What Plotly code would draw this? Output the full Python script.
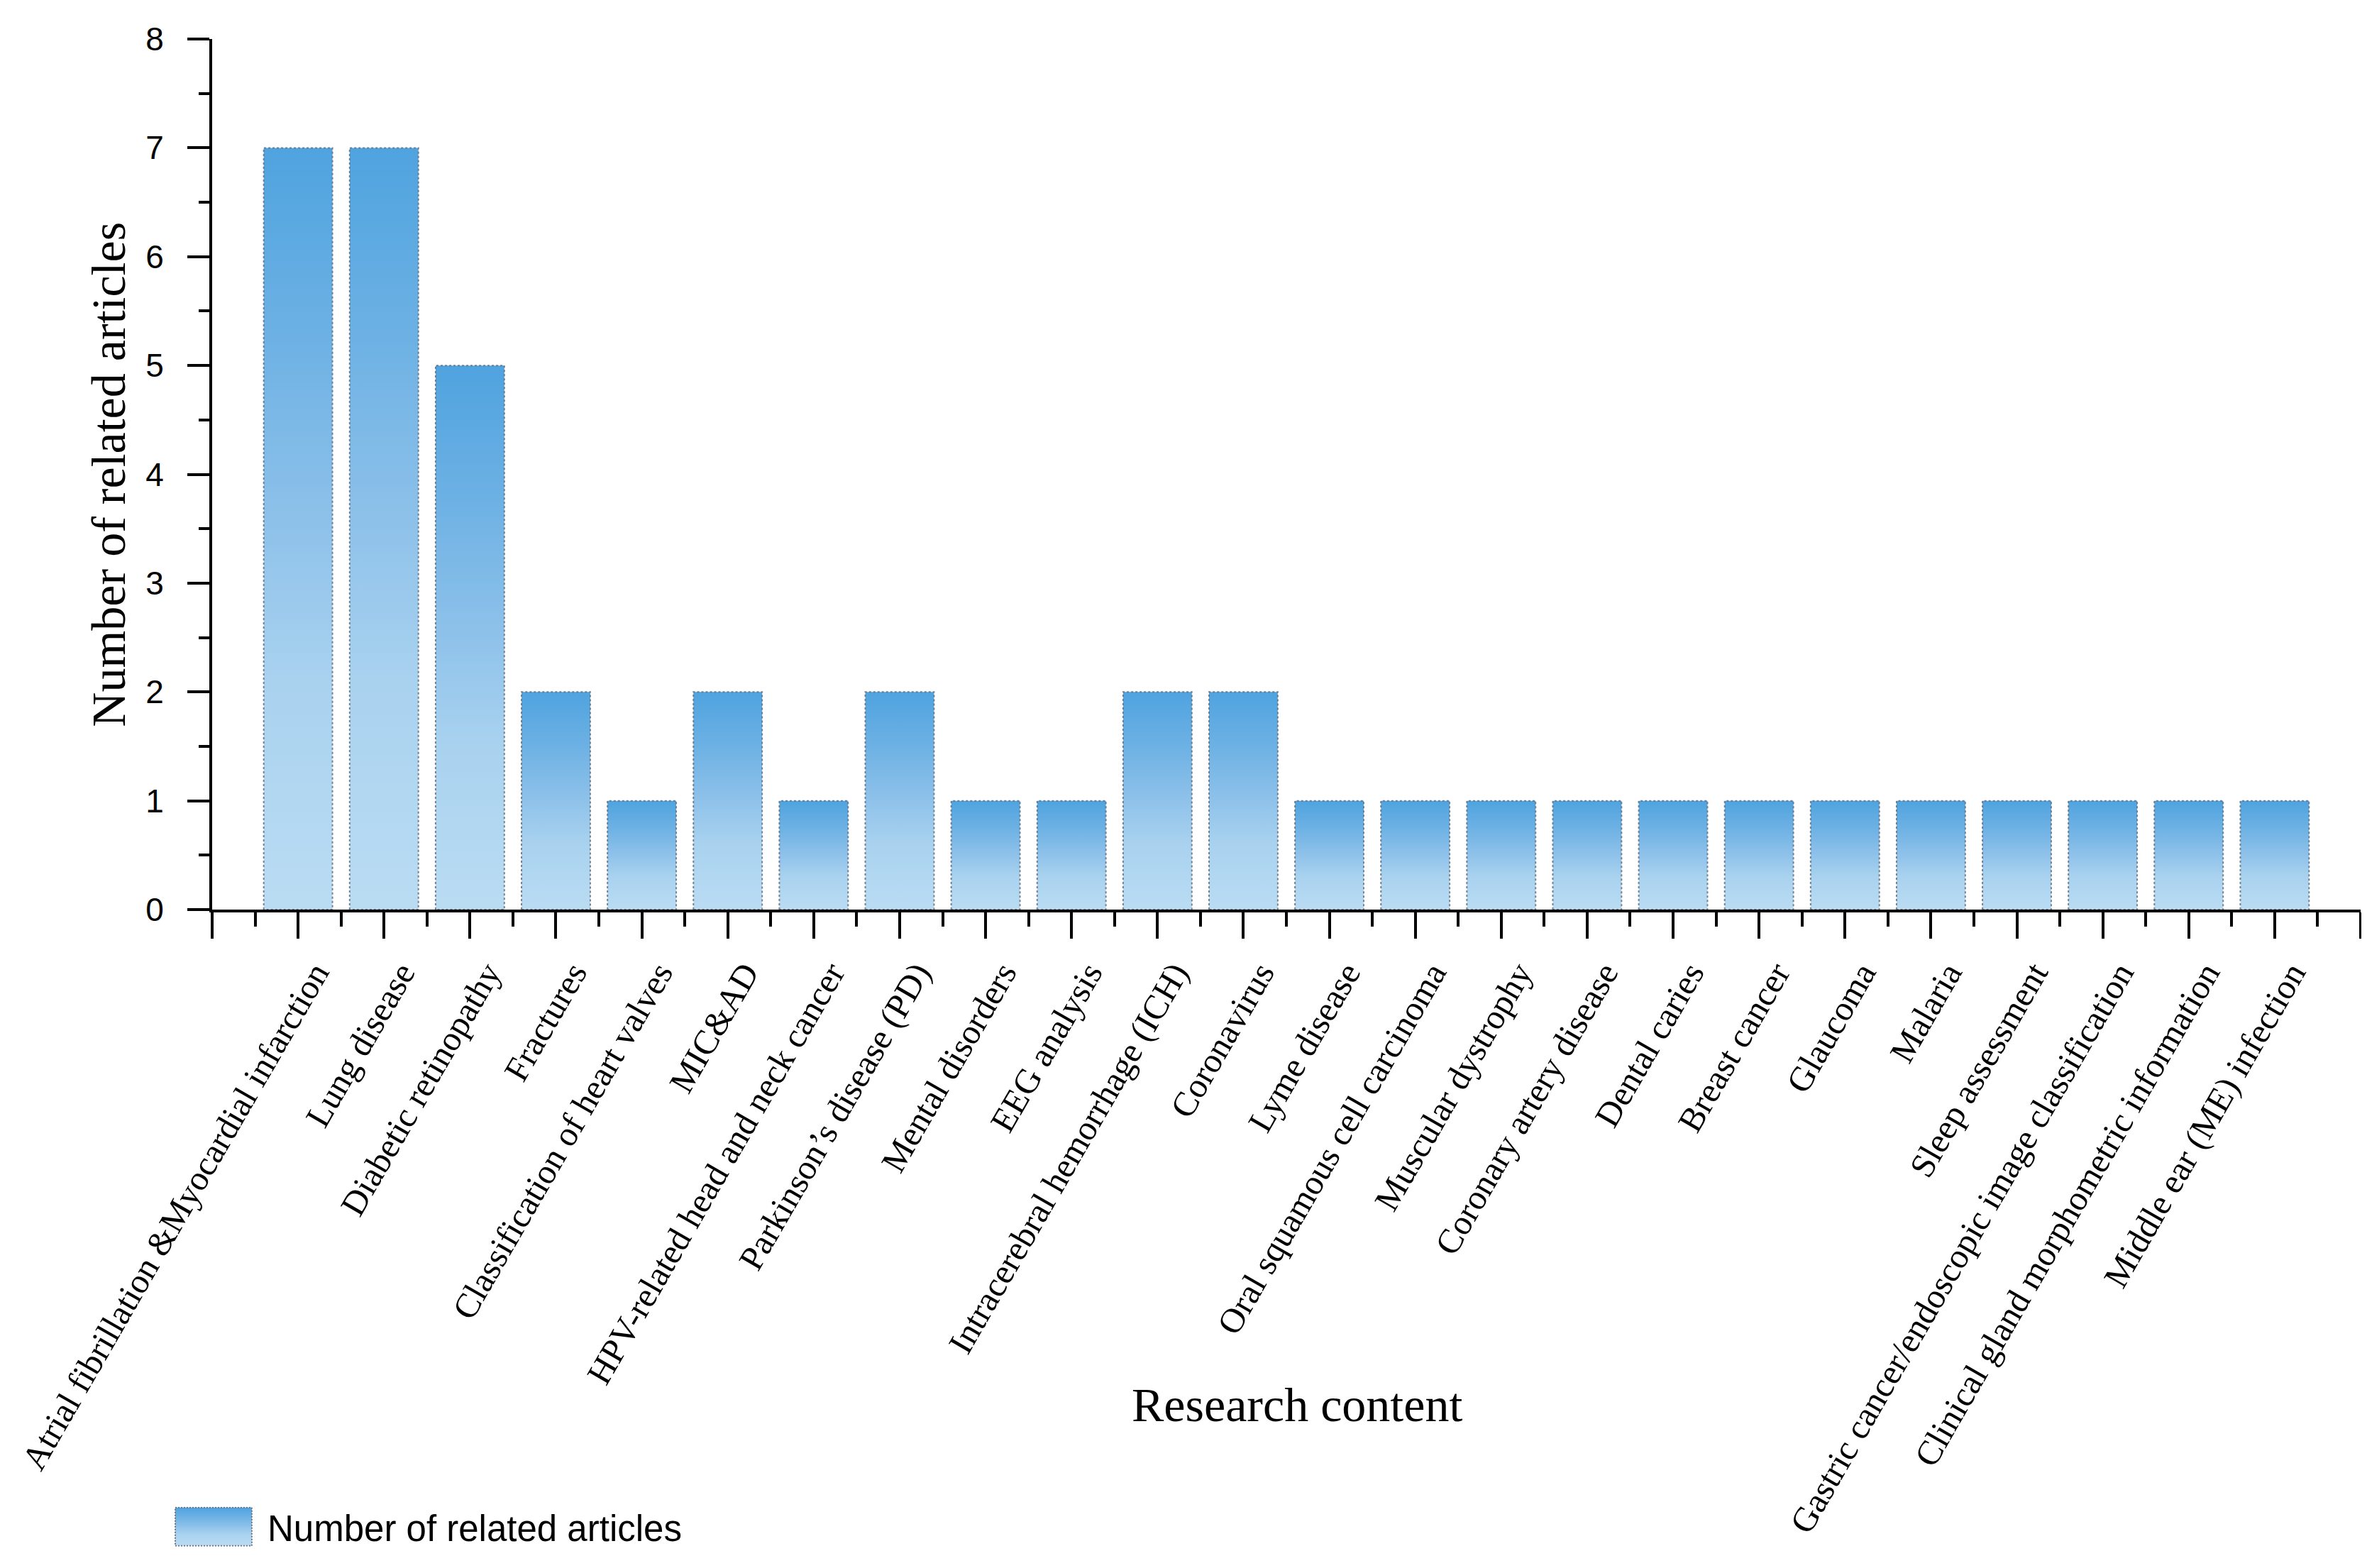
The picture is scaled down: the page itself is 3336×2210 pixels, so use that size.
import base64
import plotly.graph_objects as go

categories = [
    "Atrial fibrillation &Myocardial infarction",
    "Lung disease",
    "Diabetic retinopathy",
    "Fractures",
    "Classification of heart valves",
    "MIC&AD",
    "HPV-related head and neck cancer",
    "Parkinson\u2019s disease (PD)",
    "Mental disorders",
    "EEG analysis",
    "Intracerebral hemorrhage (ICH)",
    "Coronavirus",
    "Lyme disease",
    "Oral squamous cell carcinoma",
    "Muscular dystrophy",
    "Coronary artery disease",
    "Dental caries",
    "Breast cancer",
    "Glaucoma",
    "Malaria",
    "Sleep assessment",
    "Gastric cancer/endoscopic image classification",
    "Clinical gland morphometric information",
    "Middle ear (ME) infection",
]
values = [7, 7, 5, 2, 1, 2, 1, 2, 1, 1, 2, 2, 1, 1, 1, 1, 1, 1, 1, 1, 1, 1, 1, 1]
y_ticks = [0, 1, 2, 3, 4, 5, 6, 7, 8]
series_name = "Number of related articles"

LIGHT = "#BADCF3"
DARK = "#4FA3DF"
gradient = [[0.0, LIGHT], [0.3, "#A9D2EF"], [0.5, "#8FC2EA"], [0.75, "#6DB1E4"], [1.0, DARK]]
BORDER = "rgba(100,110,125,0.85)"
BAR_W = 0.8

fig = go.Figure()
for i, (cat, v) in enumerate(zip(categories, values)):
    x0, x1 = i - BAR_W / 2, i + BAR_W / 2
    fig.add_trace(go.Scatter(
        x=[x0, x0, x1, x1, x0],
        y=[0, v, v, 0, 0],
        mode="lines",
        fill="toself",
        fillgradient=dict(type="vertical", colorscale=gradient),
        line=dict(color=BORDER, width=2, dash="dot"),
        name=series_name,
        showlegend=False,
        hovertext=f"{cat}: {v}",
        hoverinfo="text",
    ))

# legend key: gradient swatch (same colours as the bars) + real text
stops = "".join(
    f'<stop offset="{1 - p:.2f}" stop-color="{c}"/>' for p, c in reversed(gradient)
)
svg = (
    '<svg xmlns="http://www.w3.org/2000/svg" width="110" height="56" viewBox="0 0 110 56" preserveAspectRatio="none">'
    '<defs><linearGradient id="g" x1="0" y1="0" x2="0" y2="1">' + stops + '</linearGradient></defs>'
    '<rect x="1" y="1" width="108" height="54" fill="url(#g)" stroke="#6a7480" stroke-width="2" stroke-dasharray="2,2"/>'
    '</svg>'
)
swatch_src = "data:image/svg+xml;base64," + base64.b64encode(svg.encode()).decode()

n = len(categories)
fig.update_layout(
    width=3336, height=2210,
    paper_bgcolor="white", plot_bgcolor="white",
    margin=dict(l=291, r=17, t=47, b=936),
    font=dict(family="Liberation Sans", color="black"),
    showlegend=False,
    xaxis=dict(
        range=[-1, n],
        automargin=False,
        tickmode="array",
        tickvals=list(range(-1, n + 1)),
        ticktext=[""] + categories + [""],
        tickangle=-60,
        ticklabeloverflow="allow",
        ticklabelshift=24,
        tickfont=dict(family="Liberation Serif", size=49, color="black"),
        ticks="outside", ticklen=37, tickwidth=4, tickcolor="black",
        minor=dict(tick0=-0.5, dtick=1, ticks="outside", ticklen=20, tickwidth=4, tickcolor="black"),
        showline=True, linecolor="black", linewidth=4,
        showgrid=False, zeroline=False,
    ),
    yaxis=dict(
        range=[0, 8],
        automargin=False,
        tickmode="array",
        tickvals=y_ticks,
        tickfont=dict(family="Liberation Sans", size=46, color="black"),
        ticklabelstandoff=24,
        ticks="outside", ticklen=31, tickwidth=4, tickcolor="black",
        minor=dict(tick0=0.5, dtick=1, ticks="outside", ticklen=15, tickwidth=4, tickcolor="black"),
        showline=True, linecolor="black", linewidth=4,
        showgrid=False, zeroline=False,
    ),
    images=[dict(
        source=swatch_src, xref="paper", yref="paper",
        x=-0.0175, y=-0.686, sizex=0.0363, sizey=0.0456,
        xanchor="left", yanchor="top", sizing="stretch", layer="above",
    )],
    annotations=[
        dict(text="Number of related articles", xref="paper", yref="paper",
             x=-0.0485, y=0.5, xanchor="center", yanchor="middle", textangle=-90,
             showarrow=False, font=dict(family="Liberation Serif", size=68, color="black")),
        dict(text="Research content", xref="paper", yref="paper",
             x=0.5048, y=-0.569, xanchor="center", yanchor="middle",
             showarrow=False, font=dict(family="Liberation Serif", size=68, color="black")),
        dict(text=series_name, xref="paper", yref="paper",
             x=0.0250, y=-0.711, xanchor="left", yanchor="middle",
             showarrow=False, font=dict(family="Liberation Sans", size=51, color="black")),
    ],
)

fig.write_html("out.html")
